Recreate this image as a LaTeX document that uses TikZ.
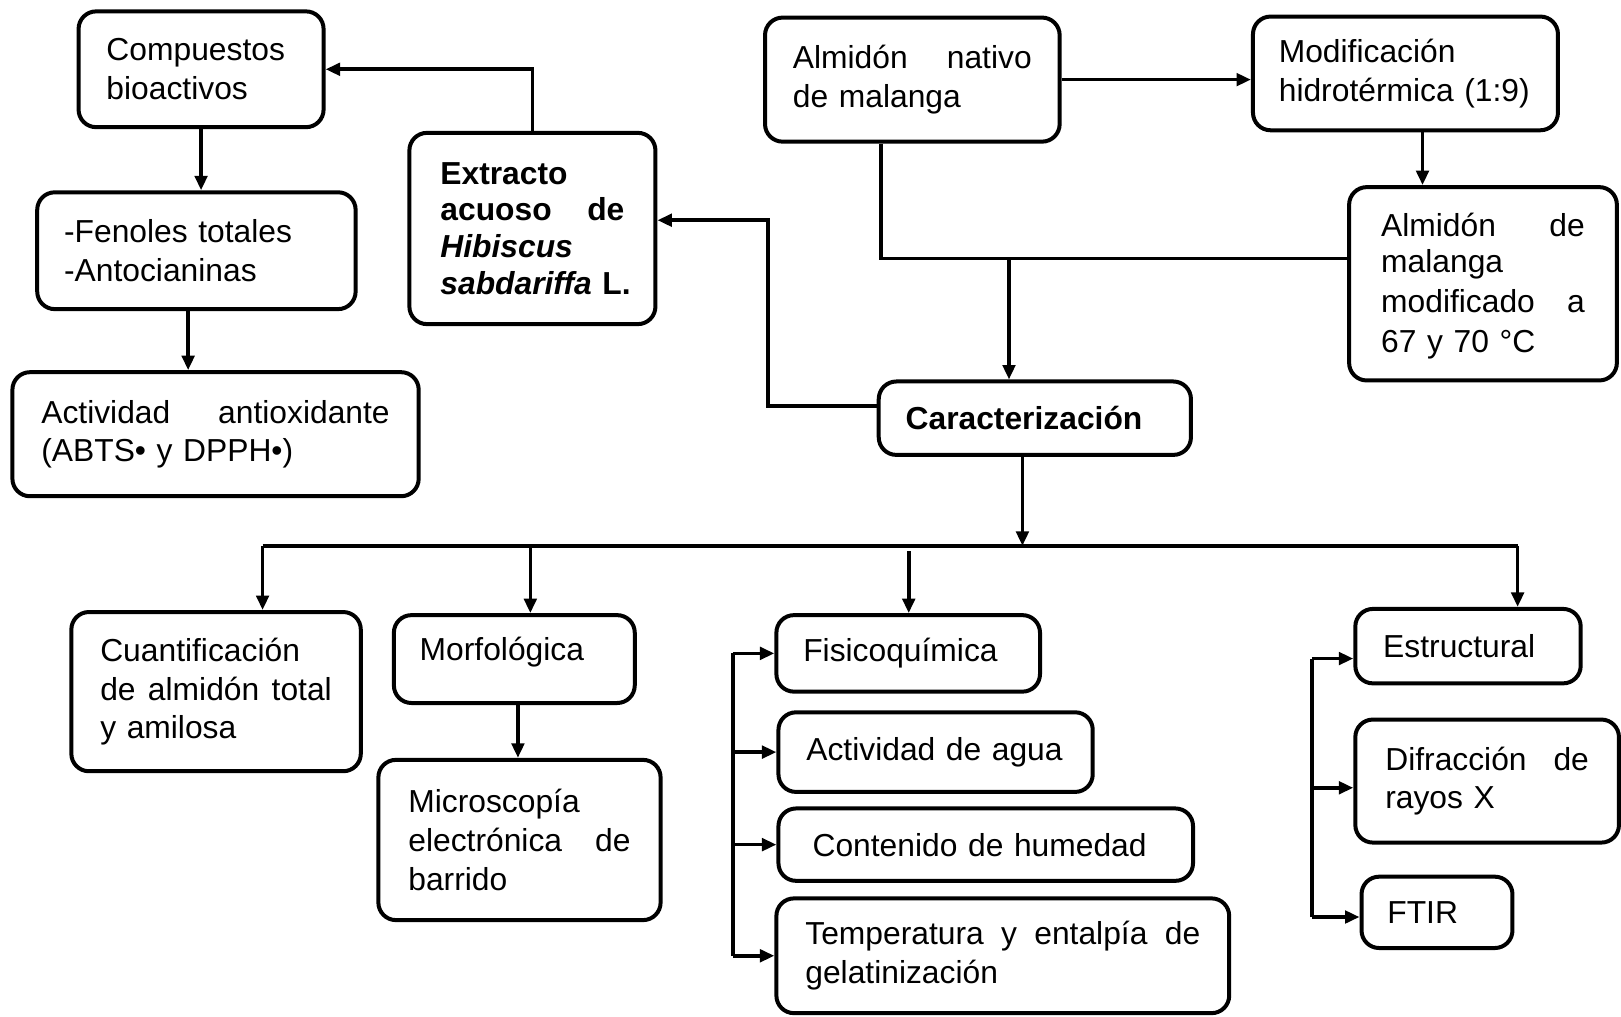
\documentclass[tikz,border=0pt]{standalone}
\usepackage{fontspec}
\setmainfont{Liberation Sans}
\usetikzlibrary{arrows.meta}
\begin{document}
\begin{tikzpicture}[
  bx/.style={draw, line width=1.1pt, rounded corners=0.17cm, align=left, inner ysep=0pt,
             font=\fontsize{8.75}{10.67}\selectfont},
  arr/.style={line width=1.0pt, -{Triangle[length=0.14cm,width=0.12cm]}},
  ln/.style={line width=1.0pt}
]
\useasboundingbox (0,0) rectangle (15.68,-9.83);

% top-left group
\node[bx, minimum width=2.37cm, minimum height=1.12cm, inner xsep=0.27cm, text width=1.83cm] (comp) at (1.945,-0.67) {Compuestos\\bioactivos};
\node[bx, minimum width=2.38cm, minimum height=1.85cm, inner xsep=0.30cm, text width=1.78cm, font=\fontsize{8.75}{10.1}\selectfont] (ext) at (5.15,-2.21) {\textbf{Extracto}\\\textbf{acuoso\hfill de}\\\textbf{\textit{Hibiscus}}\\\textbf{\textit{sabdariffa}~L.}};
\node[bx, minimum width=3.08cm, minimum height=1.13cm, inner xsep=0.26cm, text width=2.56cm] (fen) at (1.90,-2.425) {-Fenoles~totales\\-Antocianinas};
\node[bx, minimum width=3.93cm, minimum height=1.20cm, inner xsep=0.28cm, text width=3.37cm] (act) at (2.085,-4.20) {Actividad\hfill antioxidante\\(ABTS•~y~DPPH•)};

% top-right group
\node[bx, minimum width=2.85cm, minimum height=1.20cm, inner xsep=0.27cm, text width=2.31cm] (nat) at (8.825,-0.77) {Almidón\hfill nativo\\de~malanga};
\node[bx, minimum width=2.95cm, minimum height=1.10cm, inner xsep=0.25cm, text width=2.45cm] (mod) at (13.595,-0.71) {Modificación\\hidrotérmica~(1:9)};
\node[bx, minimum width=2.59cm, minimum height=1.87cm, inner xsep=0.31cm, text width=1.97cm] (amod) at (14.345,-2.745) {\raisebox{-0.04cm}[\height][\depth]{Almidón}\hfill \raisebox{-0.04cm}[\height][\depth]{de}\\[0.4pt]malanga\\[0.4pt]modificado\hfill a\\[0.4pt]67~y~70~°C};
\node[bx, minimum width=3.02cm, minimum height=0.71cm, inner xsep=0.26cm, text width=2.50cm] (car) at (10.01,-4.045) {\textbf{Caracterización}};

% bottom row
\node[bx, minimum width=2.80cm, minimum height=1.54cm, inner xsep=0.28cm, text width=2.24cm] (cua) at (2.09,-6.69) {Cuantificación\\de\hfill almidón\hfill total\\y~amilosa};
\node[bx, minimum width=2.33cm, minimum height=0.85cm, inner xsep=0.25cm, text width=1.83cm] (mor) at (4.975,-6.375) {\raisebox{0.07cm}[\height][\depth]{Morfológica}};
\node[bx, minimum width=2.73cm, minimum height=1.55cm, inner xsep=0.29cm, text width=2.15cm] (mic) at (5.025,-8.125) {Microscopía\\electrónica\hfill de\\barrido};
\node[bx, minimum width=2.55cm, minimum height=0.74cm, inner xsep=0.26cm, text width=2.03cm] (fis) at (8.785,-6.32) {Fisicoquímica};
\node[bx, minimum width=3.04cm, minimum height=0.77cm, inner xsep=0.27cm, text width=2.50cm] (agu) at (9.05,-7.275) {Actividad~de~agua};
\node[bx, minimum width=4.01cm, minimum height=0.70cm, inner xsep=0.33cm, text width=3.35cm] (con) at (9.535,-8.17) {Contenido~de~humedad};
\node[bx, minimum width=4.38cm, minimum height=1.11cm, inner xsep=0.28cm, text width=3.82cm] (tem) at (9.70,-9.245) {Temperatura\hfill y\hfill entalpía\hfill de\\gelatinización};
\node[bx, minimum width=2.18cm, minimum height=0.72cm, inner xsep=0.27cm, text width=1.64cm] (est) at (14.20,-6.25) {Estructural};
\node[bx, minimum width=2.55cm, minimum height=1.19cm, inner xsep=0.29cm, text width=1.97cm] (dif) at (14.385,-7.555) {Difracción\hfill de\\rayos~X};
\node[bx, minimum width=1.46cm, minimum height=0.69cm, inner xsep=0.25cm, text width=0.96cm] (fti) at (13.90,-8.825) {FTIR};

% helper coordinates
\coordinate (k1) at (7.43,-2.13);
\coordinate (j1) at (8.52,-2.50);
\coordinate (j2) at (9.76,-2.50);
\coordinate (b0) at (9.89,-5.28);
\coordinate (bL) at (2.54,-5.28);
\coordinate (bM) at (5.13,-5.28);
\coordinate (bF) at (8.79,-5.33);
\coordinate (bR) at (14.68,-5.28);
\coordinate (lb) at (7.09,-6.30);
\coordinate (rb) at (12.69,-6.37);
\coordinate (dA) at ([yshift=-0.065cm]dif.west);
\coordinate (fA) at ([yshift=-0.045cm]fti.west);

% connectors top-left
\draw[arr] (ext.north) |- (comp.east);
\draw[arr] (comp.south) -- (comp.south |- fen.north);
\draw[arr] ([xshift=-0.08cm]fen.south) -- ([xshift=-0.08cm]fen.south |- act.north);
\draw[arr] ([yshift=0.115cm]car.west) -| (k1) -- (k1 -| ext.east);

% connectors top-right
\draw[arr] (nat.east) -- (nat.east -| mod.west);
\draw[arr] ([xshift=0.165cm]mod.south) -- ([xshift=0.165cm]mod.south |- amod.north);
\draw[ln] (nat.south -| j1) -- (j1) -- (j1 -| amod.west);
\draw[arr] (j2) -- (j2 |- car.north);

% bus
\draw[arr] (b0 |- car.south) -- (b0);
\draw[ln] (bL) -- (bR);
\draw[arr] (bL) -- (bL |- cua.north);
\draw[arr] (bM) -- (bM |- mor.north);
\draw[arr] (bF) -- (bF |- fis.north);
\draw[arr] (bR) -- (bR |- est.north);
\draw[arr] ([xshift=0.035cm]mor.south) -- ([xshift=0.035cm]mor.south |- mic.north);

% left bracket
\draw[ln] (lb |- fis.west) -- (lb |- tem.west);
\draw[arr] (lb |- fis.west) -- (fis.west);
\draw[arr] (lb |- agu.west) -- (agu.west);
\draw[arr] (lb |- con.west) -- (con.west);
\draw[arr] (lb |- tem.west) -- (tem.west);

% right bracket
\draw[ln] (rb) -- (rb |- fA);
\draw[arr] (rb) -- (rb -| est.west);
\draw[arr] (rb |- dA) -- (dA);
\draw[arr] (rb |- fA) -- (fA);
\end{tikzpicture}
\end{document}
